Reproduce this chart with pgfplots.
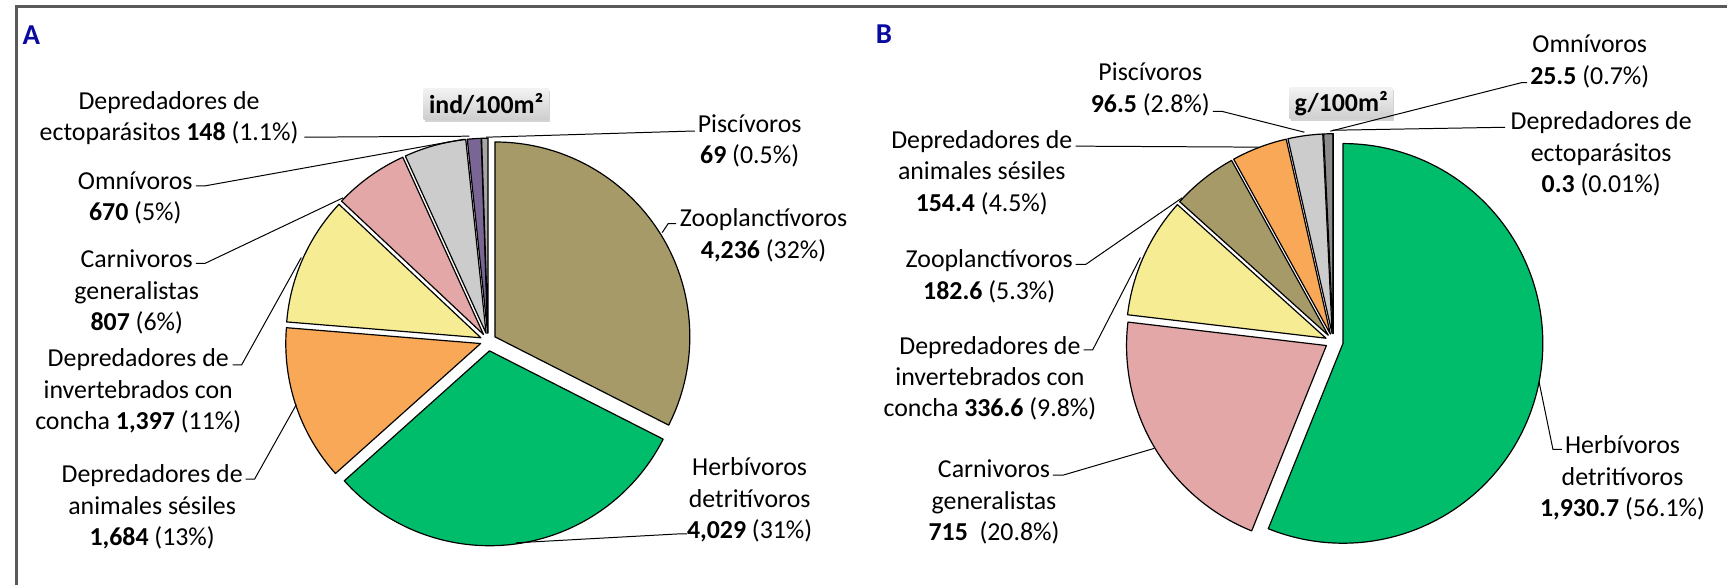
\documentclass[border=0pt]{standalone}
\usepackage{pgfplots}
\usepackage{pgfplotstable}
\pgfplotsset{compat=1.18}
\usepackage{fontspec}
\setmainfont{Carlito}
\usetikzlibrary{shadows}

\definecolor{cBrown}{RGB}{166,154,104}
\definecolor{cGreen}{RGB}{0,189,107}
\definecolor{cOrange}{RGB}{248,168,86}
\definecolor{cYellow}{RGB}{246,236,148}
\definecolor{cPink}{RGB}{226,167,166}
\definecolor{cLGray}{RGB}{204,204,204}
\definecolor{cPurple}{RGB}{122,102,148}
\definecolor{cDGrayA}{RGB}{166,166,166}
\definecolor{cDGrayB}{RGB}{140,140,140}
\definecolor{cEcto}{RGB}{80,80,80}
\definecolor{frameGray}{RGB}{90,90,90}
\definecolor{panelBlue}{RGB}{10,10,160}

% A: ind/100m2, clockwise from 12 o'clock
\pgfplotstableread{
name value color explode
Zooplanctivoros 4236 cBrown 8
Herbivoros 4029 cGreen 10
Sesiles 1684 cOrange 8
Invertebrados 1397 cYellow 8
Carnivoros 807 cPink 8
Omnivoros 670 cLGray 8
Ectoparasitos 148 cPurple 8
Piscivoros 69 cDGrayA 8
}\tabA

% B: g/100m2
\pgfplotstableread{
name value color explode
Herbivoros 1930.7 cGreen 10
Carnivoros 715 cPink 8
Invertebrados 336.6 cYellow 8
Zooplanctivoros 182.6 cBrown 8
Sesiles 154.4 cOrange 8
Piscivoros 96.5 cLGray 8
Omnivoros 25.5 cDGrayB 8
Ectoparasitos 0.3 cEcto 8
}\tabB

\def\pxu{0.5pt}
% #1 table, #2 cx, #3 cy, #4 radius (px), #5 macro that receives the wedges
\newcommand\makepie[5]{%
  \pgfplotstablegetrowsof{#1}%
  \pgfmathtruncatemacro\lastrow{\pgfplotsretval-1}%
  \def\tot{0}%
  \pgfplotsforeachungrouped \i in {0,...,\lastrow}{%
    \pgfplotstablegetelem{\i}{value}\of{#1}%
    \pgfmathsetmacro\tot{\tot+\pgfplotsretval}}%
  \def\acc{0}%
  \gdef#5{}%
  \pgfplotsforeachungrouped \i in {0,...,\lastrow}{%
    \pgfplotstablegetelem{\i}{value}\of{#1}\let\sliceval\pgfplotsretval
    \pgfplotstablegetelem{\i}{color}\of{#1}\let\slicecol\pgfplotsretval
    \pgfplotstablegetelem{\i}{explode}\of{#1}\let\sliceexp\pgfplotsretval
    \pgfmathsetmacro\aS{90-\acc/\tot*360}%
    \pgfmathsetmacro\acc{\acc+\sliceval}%
    \pgfmathsetmacro\aE{90-\acc/\tot*360}%
    \pgfmathsetmacro\aM{(\aS+\aE)/2}%
    \xdef#5{\unexpanded\expandafter{#5}\noexpand\filldraw[fill=\slicecol,draw=black,line width=0.6pt,line join=round]
      ([shift={(\aM:\sliceexp*\pxu)}]axis cs:#2,#3) -- ++(\aS:#4*\pxu)
      arc[start angle=\aS,end angle=\aE,radius=#4*\pxu] -- cycle;}%
  }}

\tikzset{
  lbl/.style={align=center, inner sep=0pt, font=\fontsize{13}{15.8}\selectfont},
  lead/.style={draw=black, line width=0.5pt},
  panel/.style={inner sep=0pt, font=\fontsize{14.5}{16}\selectfont\bfseries, text=panelBlue},
  unitbox/.style={inner sep=0pt, minimum height=15.5pt, top color=gray!10,
    bottom color=gray!38, font=\fontsize{13}{15.8}\selectfont\bfseries,
    drop shadow={opacity=0.35, shadow xshift=0.6pt, shadow yshift=-1.2pt}}
}

\begin{document}
\makepie{\tabA}{482}{343}{196}{\wedgesA}
\makepie{\tabB}{1332}{343.5}{201}{\wedgesB}
\begin{tikzpicture}
\begin{axis}[
    x=0.5pt, y=0.5pt, y dir=reverse,
    xmin=0, xmax=1728, ymin=0, ymax=588,
    hide axis, clip=false
]
\path (axis cs:0,0) rectangle (axis cs:1728,588);
\draw[frameGray, line width=1.1pt] (axis cs:7.5,588) -- (axis cs:7.5,6.5) -- (axis cs:1728,6.5);

\node[panel] at (axis cs:22.5,35) {A};
\node[panel] at (axis cs:880,34) {B};

\wedgesA
\wedgesB

\node[unitbox, minimum width=63pt] at (axis cs:480,104.5) {ind/100m²};
\node[unitbox, minimum width=52pt] at (axis cs:1340,104) {g/100m²};

% panel A labels
\node[lbl] at (axis cs:161,119) {Depredadores de\\ectoparásitos \textbf{148} (1.1\%)};
\draw[lead] (axis cs:297,138) -- (axis cs:463,137);
\node[lbl] at (axis cs:127,199) {Omnívoros\\\textbf{670} (5\%)};
\draw[lead] (axis cs:188,187) -- (axis cs:197,187) -- (axis cs:458,140);
\node[lbl] at (axis cs:128.5,294) {Carnivoros\\generalistas\\\textbf{807} (6\%)};
\draw[lead] (axis cs:188,265) -- (axis cs:197,265) -- (axis cs:336,199);
\node[lbl] at (axis cs:130,393.5) {Depredadores de\\invertebrados con\\concha \textbf{1,397} (11\%)};
\draw[lead] (axis cs:225,367) -- (axis cs:234,367) -- (axis cs:294,259);
\node[lbl] at (axis cs:144,510) {Depredadores de\\animales sésiles\\\textbf{1,684} (13\%)};
\draw[lead] (axis cs:238,482) -- (axis cs:247,482) -- (axis cs:289,407);
\node[lbl] at (axis cs:745,142) {Piscívoros\\\textbf{69} (0.5\%)};
\draw[lead] (axis cs:690,132) -- (axis cs:681,132) -- (axis cs:480,138);
\node[lbl] at (axis cs:759,236.5) {Zooplanctívoros\\\textbf{4,236} (32\%)};
\draw[lead] (axis cs:671,225) -- (axis cs:663,225) -- (axis cs:657,234);
\node[lbl] at (axis cs:745,503) {Herbívoros\\detritívoros\\\textbf{4,029} (31\%)};
\draw[lead] (axis cs:682,537) -- (axis cs:674,537) -- (axis cs:510,546);

% panel B labels
\node[lbl] at (axis cs:1148,90) {Piscívoros\\\textbf{96.5} (2.8\%)};
\draw[lead] (axis cs:1211,112) -- (axis cs:1220,112) -- (axis cs:1303,133);
\node[lbl] at (axis cs:978.5,173.5) {Depredadores de\\animales sésiles\\\textbf{154.4} (4.5\%)};
\draw[lead] (axis cs:1073,147) -- (axis cs:1257,148);
\node[lbl] at (axis cs:986,278) {Zooplanctívoros\\\textbf{182.6} (5.3\%)};
\draw[lead] (axis cs:1073,266) -- (axis cs:1083,266) -- (axis cs:1180,199);
\node[lbl] at (axis cs:986.7,380.5) {Depredadores de\\invertebrados con\\concha \textbf{336.6} (9.8\%)};
\draw[lead] (axis cs:1081,352) -- (axis cs:1090,352) -- (axis cs:1138,259);
\node[lbl] at (axis cs:990.8,505) {Carnivoros\\generalistas\\\textbf{715}\ \ (20.8\%)};
\draw[lead] (axis cs:1050,478) -- (axis cs:1060,478) -- (axis cs:1152,451);
\node[lbl] at (axis cs:1590,62) {Omnívoros\\\textbf{25.5} (0.7\%)};
\draw[lead] (axis cs:1527,83) -- (axis cs:1522,83) -- (axis cs:1329,132);
\node[lbl] at (axis cs:1601.5,155) {Depredadores de\\ectoparásitos\\\textbf{0.3} (0.01\%)};
\draw[lead] (axis cs:1505,128) -- (axis cs:1332,131);
\node[lbl] at (axis cs:1623,481) {Herbívoros\\detritívoros\\\textbf{1,930.7} (56.1\%)};
\draw[lead] (axis cs:1539,384) -- (axis cs:1553,452) -- (axis cs:1562,452);
\end{axis}
\end{tikzpicture}
\end{document}
